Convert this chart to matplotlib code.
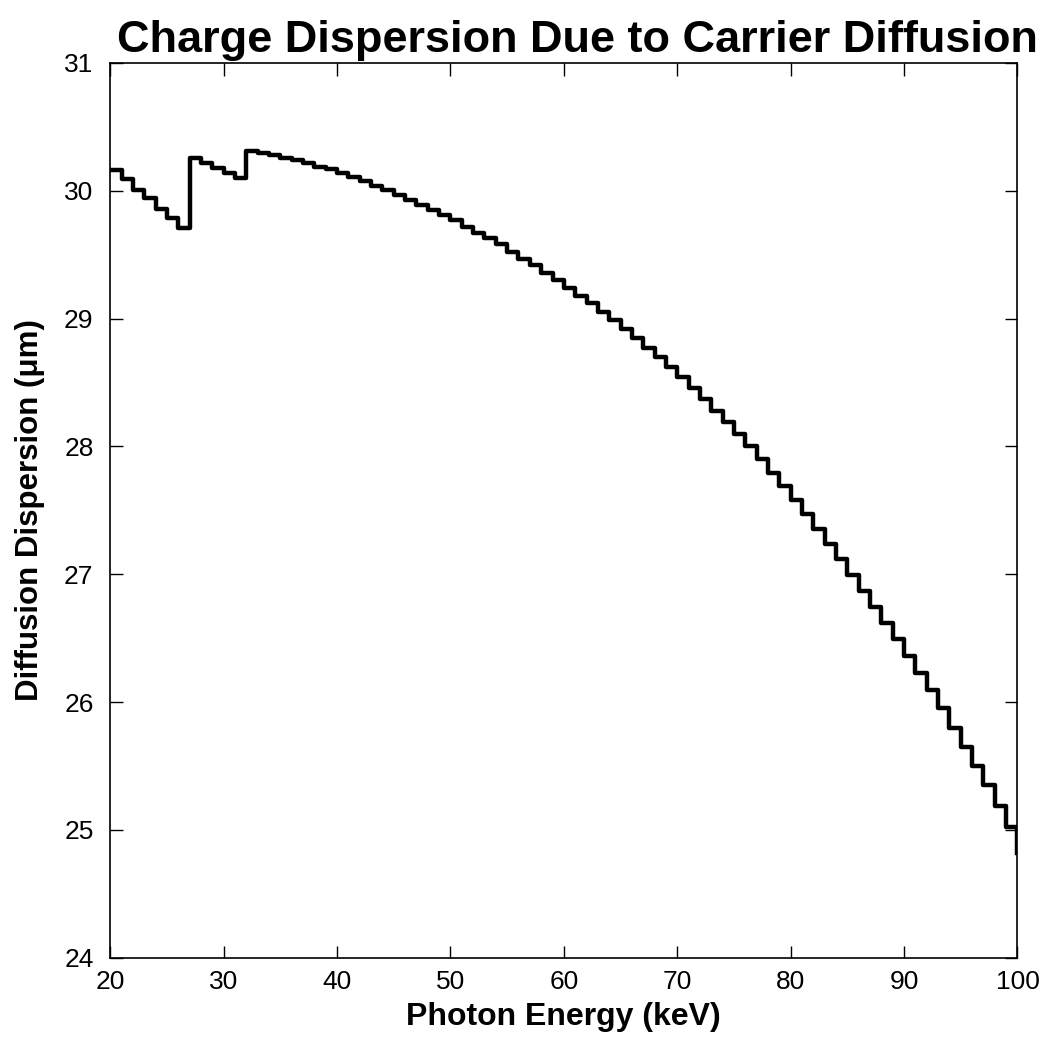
import matplotlib
matplotlib.use("Agg")
import matplotlib.pyplot as plt

# photon energy (keV), one step per keV
energy = list(range(20, 101))

# diffusion dispersion (um)
dispersion = [
    30.16, 30.09, 30.01, 29.94, 29.86, 29.79, 29.71,          # 20-26
    30.26, 30.22, 30.18, 30.14, 30.10,                        # 27-31
    30.31, 30.295, 30.28, 30.26, 30.24, 30.22, 30.19, 30.17,  # 32-39
    30.14, 30.11, 30.08, 30.04, 30.01, 29.97, 29.93, 29.89, 29.85, 29.81,  # 40-49
    29.77, 29.72, 29.67, 29.63, 29.58, 29.52, 29.47, 29.42, 29.36, 29.30,  # 50-59
    29.24, 29.18, 29.12, 29.05, 28.99, 28.92, 28.85, 28.77, 28.70, 28.62,  # 60-69
    28.54, 28.46, 28.37, 28.28, 28.19, 28.10, 28.00, 27.90, 27.79, 27.69,  # 70-79
    27.58, 27.47, 27.35, 27.24, 27.12, 26.99, 26.87, 26.74, 26.62, 26.49,  # 80-89
    26.36, 26.23, 26.09, 25.95, 25.80, 25.65, 25.50, 25.35, 25.19, 25.02,  # 90-99
    24.82,                                                    # 100
]

xticks = [20, 30, 40, 50, 60, 70, 80, 90, 100]
yticks = [24, 25, 26, 27, 28, 29, 30, 31]

plt.rcParams['font.family'] = ['Liberation Sans', 'DejaVu Sans']

fig = plt.figure(figsize=(10.5, 10.5), dpi=100)
ax = fig.add_axes([0.105, 0.088, 0.864, 0.852])

ax.step(energy, dispersion, where='post', color='black', linewidth=3.2)

ax.set_xlim(20, 100)
ax.set_ylim(24, 31)
ax.set_xticks(xticks)
ax.set_yticks(yticks)
ax.tick_params(direction='in', length=9, width=1, top=True, right=True,
               labelsize=19)
ax.tick_params(axis='x', pad=9)
ax.tick_params(axis='y', pad=12)
for s in ax.spines.values():
    s.set_linewidth(1.2)

ax.set_title("Charge Dispersion Due to Carrier Diffusion",
             fontsize=32.5, fontweight='bold', pad=8, x=0.515)
ax.set_xlabel("Photon Energy (keV)", fontsize=23, fontweight='bold', labelpad=6)
ax.set_ylabel("Diffusion Dispersion (\u03bcm)", fontsize=22.5, fontweight='bold',
              labelpad=14)

fig.savefig("out.png", dpi=100, facecolor='white')
